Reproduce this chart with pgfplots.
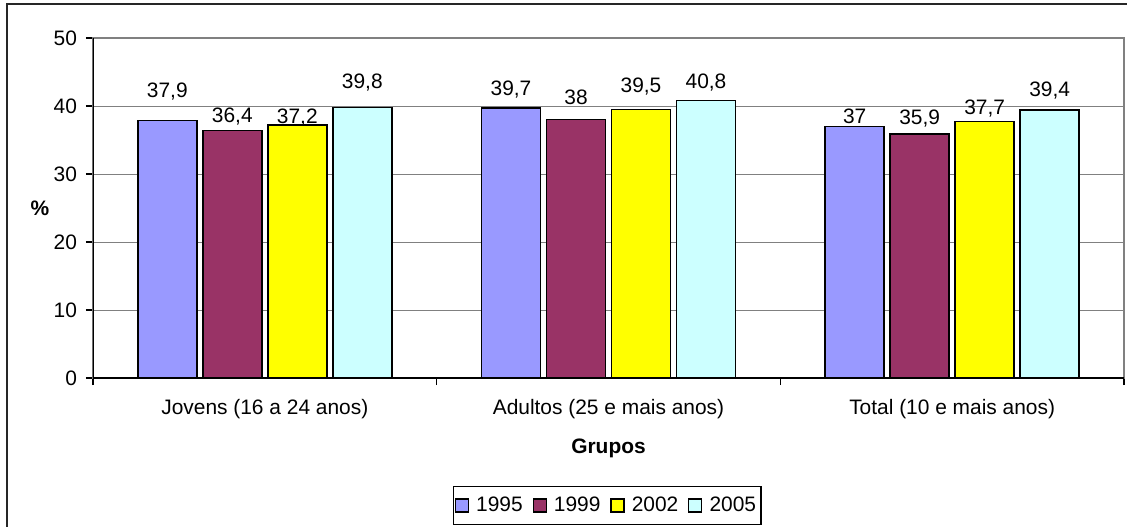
\documentclass[border=0pt]{standalone}
\usepackage{fontspec}
\setmainfont{Liberation Sans}
\usepackage{pgfplots}
\usepackage{pgfplotstable}
\pgfplotsset{compat=1.18}
\definecolor{c95}{RGB}{153,153,255}
\definecolor{c99}{RGB}{153,51,102}
\definecolor{c02}{RGB}{255,255,0}
\definecolor{c05}{RGB}{204,255,255}
\newcommand{\fsz}{\fontsize{10.5}{12.6}\selectfont}

% x = group, y = value, off = label centre above bar top (bp)
\pgfplotstableread{
x y off
0 37.9 14.5
1 39.7 9.5
2 37.0 5
}\tabA
\pgfplotstableread{
x y off
0 36.4 7
1 38.0 11
2 35.9 7.5
}\tabB
\pgfplotstableread{
x y off
0 37.2 4
1 39.5 11.5
2 37.7 6.5
}\tabC
\pgfplotstableread{
x y off
0 39.8 12.5
1 40.8 9
2 39.4 10
}\tabD

\begin{document}
\begin{tikzpicture}[font=\fsz]
\useasboundingbox (0,0) rectangle (563.5bp,-263.5bp);
\draw[line width=1bp, black!85] (3.5bp,-300bp) |- (600bp,-2bp);
\begin{axis}[
    at={(46.5bp,-189bp)}, anchor=south west,
    scale only axis,
    width=515.5bp, height=170bp,
    ybar=3bp, bar width=29.5bp,
    xmin=-0.5, xmax=2.5,
    ymin=0, ymax=50,
    ytick={0,10,20,30,40,50},
    xtick={-0.5,0.5,1.5,2.5},
    x tick label as interval,
    xticklabels={Jovens (16 a 24 anos),Adultos (25 e mais anos),Total (10 e mais anos)},
    tick pos=left,
    tick align=outside,
    major tick length=3.5bp,
    tick style={black, line width=0.6bp},
    axis line style={draw=gray, line width=0.6bp},
    ymajorgrids,
    grid style={draw=gray, line width=0.5bp},
    /pgf/number format/use comma,
    /pgf/number format/assume math mode=true,
    tick label style={font=\fsz},
    yticklabel style={xshift=-1bp},
    xticklabel style={yshift=-3.5bp},
    xlabel={\bfseries Grupos},
    xlabel style={at={(axis description cs:0.5,-0.206)}, anchor=center, font=\fsz},
    ylabel={\bfseries \%},
    ylabel style={at={(axis description cs:-0.0514,0.5)}, rotate=-90, anchor=center, font=\fsz},
    legend style={at={(axis description cs:0.499,-0.375)}, anchor=center,
        draw=black, line width=0.6bp, font=\fsz, legend columns=4,
        inner xsep=0.5bp, inner ysep=3bp,
        /tikz/every even column/.append style={column sep=3bp}},
    legend image code/.code={\draw[#1, draw=black, line width=0.6bp] (0bp,-3.25bp) rectangle (6.5bp,3.25bp);
        \path (8bp,0bp);},
    nodes near coords,
    visualization depends on={\thisrow{off}\as\lbloff},
    nodes near coords style={font=\fsz, anchor=center, yshift=\lbloff bp, text=black},
]
\addplot[fill=c95, draw=black, line width=0.7bp] table[x=x,y=y] {\tabA};
\addplot[fill=c99, draw=black, line width=0.7bp] table[x=x,y=y] {\tabB};
\addplot[fill=c02, draw=black, line width=0.7bp] table[x=x,y=y] {\tabC};
\addplot[fill=c05, draw=black, line width=0.7bp] table[x=x,y=y] {\tabD};
\legend{1995,1999,2002,2005}
\draw[black, line width=0.6bp] (rel axis cs:0,1) -- (rel axis cs:0,0) -- (rel axis cs:1,0);
\end{axis}
\end{tikzpicture}
\end{document}
